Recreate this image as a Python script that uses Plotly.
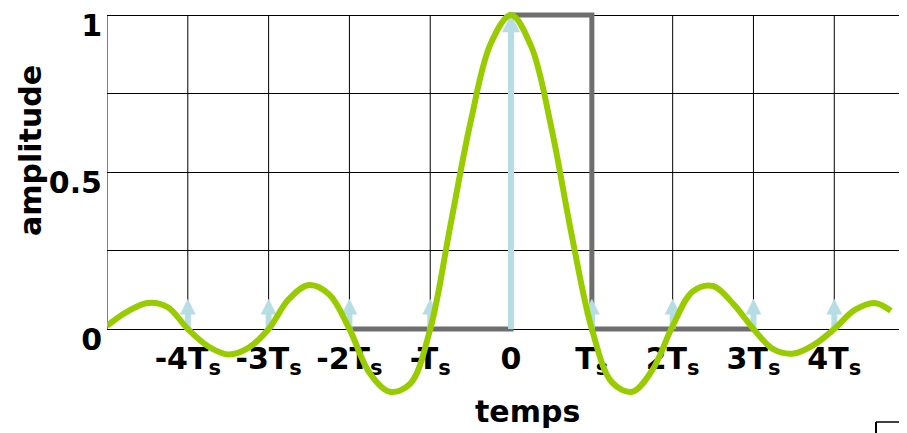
import plotly.graph_objects as go

# ---------------- data ----------------
# sampling instants (in units of Ts) and the heights of the sample arrows
sample_t = [-4, -3, -2, -1, 0, 1, 2, 3, 4]
sample_amp = [0.095, 0.095, 0.095, 0.095, 1.0, 0.095, 0.095, 0.095, 0.095]

# interpolating (sinc-like) curve
interp_t = [-5.0, -4.75, -4.5, -4.25, -4.0, -3.75, -3.5, -3.25, -3.0, -2.75,
            -2.5, -2.25, -2.0, -1.75, -1.5, -1.25, -1.0, -0.75, -0.5, -0.25,
            0.0, 0.25, 0.5, 0.75, 1.0, 1.25, 1.5, 1.75, 2.0, 2.25,
            2.5, 2.75, 3.0, 3.25, 3.5, 3.75, 4.0, 4.25, 4.5, 4.7]
interp_amp = [0.01, 0.055, 0.083, 0.07, 0.0, -0.055, -0.081, -0.06, 0.0, 0.095,
              0.14, 0.11, 0.0, -0.14, -0.2, -0.175, 0.0, 0.33, 0.66, 0.91,
              1.0, 0.9, 0.64, 0.3, 0.0, -0.17, -0.2, -0.13, 0.01, 0.12,
              0.137, 0.08, 0.0, -0.065, -0.078, -0.05, 0.0, 0.06, 0.083, 0.058]

# zero-order-hold style rectangle (grey)
rect_t = [-2, 0, 0, 1, 1, 3]
rect_amp = [0, 0, 1, 1, 0, 0]

# axes
x_tick_vals = [-4, -3, -2, -1, 0, 1, 2, 3, 4]
x_tick_text = ["-4T<sub>s</sub>", "-3T<sub>s</sub>", "-2T<sub>s</sub>", "-T<sub>s</sub>", "0",
               "T<sub>s</sub>", "2T<sub>s</sub>", "3T<sub>s</sub>", "4T<sub>s</sub>"]
y_tick_vals = [0, 0.5, 1]
y_tick_text = ["0", "0.5", "1"]
y_minor_vals = [0.25, 0.75]
grid_t = [-5, -4, -3, -2, -1, 0, 1, 2, 3, 4]
x_title = "temps"
y_title = "amplitude"

# ---------------- layout constants ----------------
# the page body has an 8px margin, so the figure is placed 8px right/down
OFF = 8
W, H = 907 - OFF, 433 - OFF
M_L, M_R, M_T, M_B = 107 - OFF, 0, 0, 0
X_RANGE = [-5, 4.9]
Y1_PAGE, Y0_PAGE = 15, 329          # page pixel rows of amplitude 1 and 0
PX_UNIT = Y0_PAGE - Y1_PAGE
Y_RANGE = [-(433 - Y0_PAGE) / PX_UNIT, 1 + (Y1_PAGE - OFF) / PX_UNIT]
plot_w = W - M_L - M_R
plot_h = H - M_T - M_B
PX_UNIT_X = plot_w / (X_RANGE[1] - X_RANGE[0])


def paper_x(page_x):
    return (page_x - OFF - M_L) / plot_w


def paper_y(page_y):
    return (H - M_B - (page_y - OFF)) / plot_h


FONT = "DejaVu Sans"
GREEN = "#99cc00"
GREY = "#6e6e6e"
BLUE = "#b5dde3"

fig = go.Figure()

# grey rectangle
fig.add_trace(go.Scatter(x=rect_t, y=rect_amp, mode="lines",
                         line=dict(color=GREY, width=5), hoverinfo="skip",
                         showlegend=False))

# arrows: stems + triangular heads (head size in pixels, converted to data units)
stem_x, stem_y = [], []
head_x, head_y = [], []
for t, a in zip(sample_t, sample_amp):
    hw_px, hh_px = (17, 17) if a > 0.5 else (15, 15)
    hw = hw_px / 2 / PX_UNIT_X
    hh = hh_px / PX_UNIT
    stem_x += [t, t, None]
    stem_y += [0, a - hh + 1 / PX_UNIT, None]
    head_x += [t - hw, t, t + hw, t - hw, None]
    head_y += [a - hh, a, a - hh, a - hh, None]
fig.add_trace(go.Scatter(x=stem_x, y=stem_y, mode="lines",
                         line=dict(color=BLUE, width=6), hoverinfo="skip",
                         showlegend=False))
fig.add_trace(go.Scatter(x=head_x, y=head_y, mode="lines", fill="toself",
                         fillcolor=BLUE, line=dict(color=BLUE, width=0.5),
                         hoverinfo="skip", showlegend=False))

# interpolating curve
fig.add_trace(go.Scatter(x=interp_t, y=interp_amp, mode="lines",
                         line=dict(color=GREEN, width=6, shape="spline", smoothing=1),
                         hoverinfo="skip", showlegend=False))

# vertical grid lines, only between 0 and 1
for t in grid_t:
    fig.add_shape(type="line", xref="x", yref="y", x0=t, x1=t, y0=0, y1=1,
                  line=dict(color="black", width=1), layer="below")

# little corner at the bottom right
fig.add_shape(type="line", xref="paper", yref="paper",
              x0=paper_x(876), x1=paper_x(876), y0=paper_y(433), y1=paper_y(422),
              line=dict(color="black", width=2))
fig.add_shape(type="line", xref="paper", yref="paper",
              x0=paper_x(876), x1=1, y0=paper_y(422), y1=paper_y(422),
              line=dict(color="black", width=1.5))

x_axis_pos = (0 - Y_RANGE[0]) / (Y_RANGE[1] - Y_RANGE[0])

fig.update_layout(
    width=W, height=H,
    margin=dict(l=M_L, r=M_R, t=M_T, b=M_B, pad=0),
    paper_bgcolor="white", plot_bgcolor="white",
    font=dict(family=FONT, size=30, color="black"),
    showlegend=False,
    xaxis=dict(range=X_RANGE, tickmode="array", tickvals=x_tick_vals, ticktext=x_tick_text,
               showgrid=False, zeroline=False, showline=True, linecolor="black", linewidth=1,
               anchor="free", position=x_axis_pos, ticks="", layer="below traces",
               tickfont=dict(family=FONT, size=30, color="black", weight="bold"),
               ticklabelstandoff=3),
    yaxis=dict(range=Y_RANGE, tickmode="array", tickvals=y_tick_vals, ticktext=y_tick_text,
               showgrid=True, gridcolor="black", gridwidth=1, zeroline=False, showline=False,
               minor=dict(tickmode="array", tickvals=y_minor_vals, showgrid=True,
                          gridcolor="black", gridwidth=1, ticks=""),
               ticks="", ticklabelshift=10, ticklabelstandoff=4, ticklabeloverflow="allow",
               tickfont=dict(family=FONT, size=30, color="black", weight="bold")),
)

fig.add_annotation(text="<b>%s</b>" % x_title, xref="paper", yref="paper",
                   x=paper_x(527), y=paper_y(411),
                   xanchor="center", yanchor="middle", showarrow=False,
                   font=dict(family=FONT, size=30, color="black"))
fig.add_annotation(text="<b>%s</b>" % y_title, xref="paper", yref="paper",
                   x=paper_x(31), y=paper_y(151),
                   xanchor="center", yanchor="middle", textangle=-90, showarrow=False,
                   font=dict(family=FONT, size=30, color="black"))

fig.write_html("out.html")
